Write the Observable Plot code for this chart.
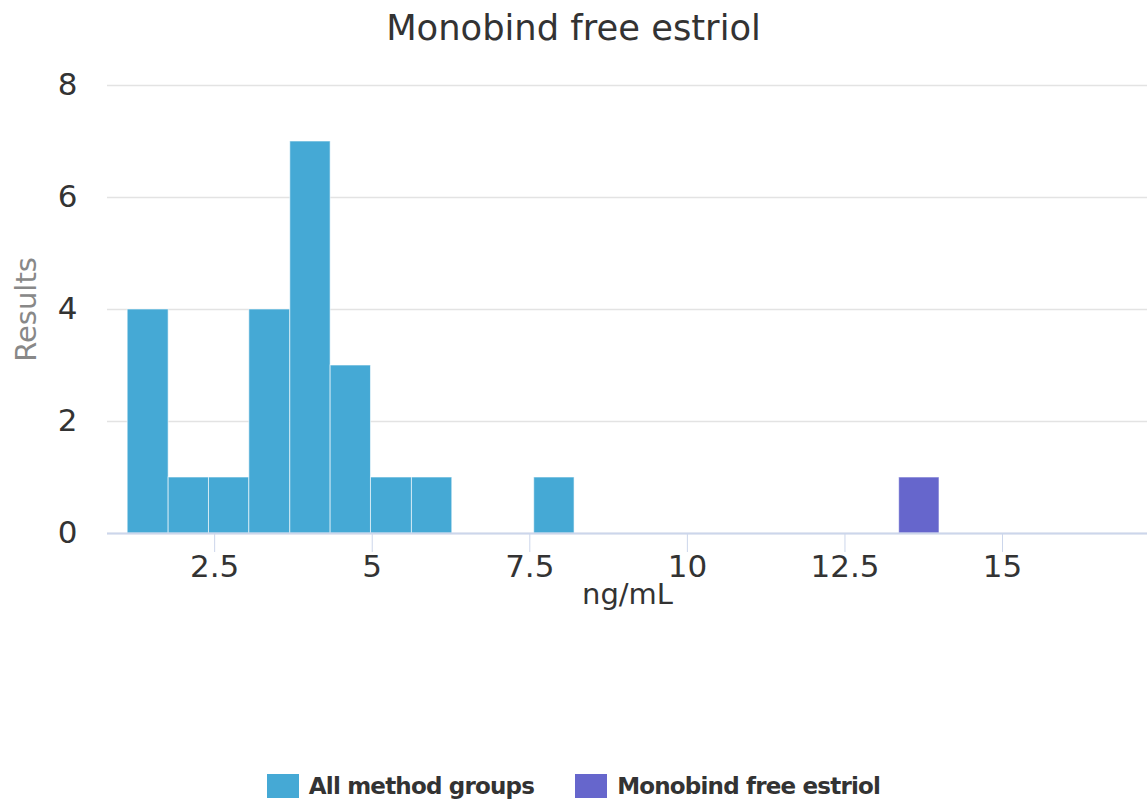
<!DOCTYPE html>
<html>
<head>
<meta charset="utf-8">
<script src="https://cdn.jsdelivr.net/npm/d3@7"></script>
<script src="https://cdn.jsdelivr.net/npm/@observablehq/plot@0.6"></script>
<style>
  body { margin: 0; background: #fff; font-family: "DejaVu Sans", sans-serif; }
  #wrap { position: relative; width: 1147px; height: 811px; overflow: hidden; }
  #title { position: absolute; left: 0; top: 10px; width: 1147px; text-align: center;
           font-size: 35.3px; line-height: 35px; color: #333; }
  #chart { position: absolute; left: 0; top: 50px; }
  #legend { position: absolute; left: 0; top: 772px; width: 1147px; display: flex;
            justify-content: center; align-items: center; gap: 41px; }
  .item { display: flex; align-items: center; }
  .sw { width: 32px; height: 24px; margin-right: 10px; }
  .lt { font-weight: bold; font-size: 23px; letter-spacing: -0.8px; color: #333; line-height: 28px; }
</style>
</head>
<body>
<div id="wrap">
  <div id="title"></div>
  <div id="chart"></div>
  <div id="legend"></div>
</div>
<script>
// ---- data ----
const chartTitle = "Monobind free estriol";
const seriesNames = ["All method groups", "Monobind free estriol"];
const seriesColors = ["#45a9d5", "#6666cc"];

// "All method groups" histogram bins (ng/mL)
const allBinLo  = [1.12, 1.77, 2.41, 3.05, 3.70, 4.34, 4.98, 5.63, 7.57];
const allBinHi  = [1.77, 2.41, 3.05, 3.70, 4.34, 4.98, 5.63, 6.27, 8.21];
const allCounts = [4, 1, 1, 4, 7, 3, 1, 1, 1];

// "Monobind free estriol" bin
const monoBinLo  = [13.36];
const monoBinHi  = [14.00];
const monoCounts = [1];

const xTicks = [2.5, 5, 7.5, 10, 12.5, 15];
const yTicks = [0, 2, 4, 6, 8];
const xLabel = "ng/mL";
const yLabel = "Results";

// ---- build tables ----
const allData = allBinLo.map((lo, i) => ({x1: lo, x2: allBinHi[i], y: allCounts[i]}));
const monoData = monoBinLo.map((lo, i) => ({x1: lo, x2: monoBinHi[i], y: monoCounts[i]}));

document.getElementById("title").textContent = chartTitle;

const chart = Plot.plot({
  width: 1147,
  height: 570,
  marginTop: 35,
  marginBottom: 87,
  marginLeft: 107,
  marginRight: 0,
  style: {fontFamily: "DejaVu Sans", background: "#fff", overflow: "visible"},
  x: {domain: [0.8, 17.3]},
  y: {domain: [0, 8]},
  marks: [
    Plot.gridY({ticks: yTicks, stroke: "#e3e3e3", strokeOpacity: 1, strokeWidth: 1.5}),
    Plot.rectY(allData, {x1: "x1", x2: "x2", y: "y", fill: seriesColors[0],
      stroke: "#ffffff", strokeOpacity: 0.6, strokeWidth: 1}),
    Plot.rectY(monoData, {x1: "x1", x2: "x2", y: "y", fill: seriesColors[1],
      stroke: "#ffffff", strokeOpacity: 0.6, strokeWidth: 1}),
    Plot.ruleY([0], {stroke: "#ccd6eb", strokeWidth: 2}),
    Plot.axisX({ticks: xTicks, tickSize: 19, tickPadding: 2, stroke: "#ccd6eb",
      fill: "#333", fontSize: 31, tickFormat: d => String(d), label: null}),
    Plot.axisY({ticks: yTicks, tickSize: 0, tickPadding: 30, fill: "#333",
      fontSize: 31, label: null}),
    Plot.text([xLabel], {text: d => d, frameAnchor: "bottom", lineAnchor: "bottom",
      dy: 70, fontSize: 29, fill: "#333"}),
    Plot.text([yLabel], {text: d => d, frameAnchor: "left", rotate: -90, lineAnchor: "top",
      textAnchor: "middle", dx: -92, fontSize: 29, fill: "#888"})
  ]
});
document.getElementById("chart").appendChild(chart);

// legend
const legend = document.getElementById("legend");
seriesNames.forEach((name, i) => {
  const item = document.createElement("div");
  item.className = "item";
  const sw = document.createElement("div");
  sw.className = "sw";
  sw.style.background = seriesColors[i];
  const t = document.createElement("span");
  t.className = "lt";
  t.textContent = name;
  item.appendChild(sw);
  item.appendChild(t);
  legend.appendChild(item);
});
</script>
</body>
</html>
